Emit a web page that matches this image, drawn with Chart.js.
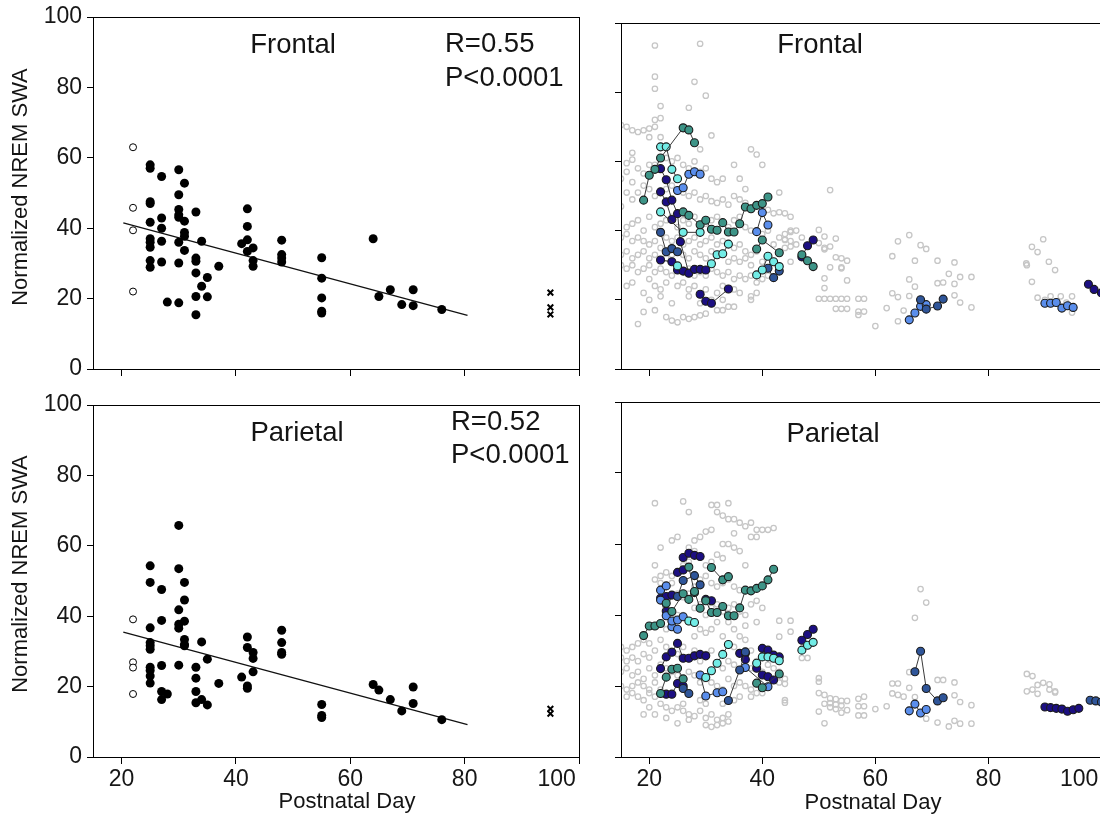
<!DOCTYPE html>
<html>
<head>
<meta charset="utf-8">
<script src="https://cdn.jsdelivr.net/npm/chart.js@4.4.1/dist/chart.umd.min.js"></script>
<style>
  html, body { margin: 0; padding: 0; background: #fff; overflow: hidden; width: 1100px; height: 816px; }
  canvas { position: absolute; }
</style>
</head>
<body>
<canvas id="frontalLeft" width="590" height="390" style="left:0;top:0"></canvas>
<canvas id="parietalLeft" width="590" height="426" style="left:0;top:390px"></canvas>
<canvas id="frontalRight" width="575" height="390" style="left:560px;top:0"></canvas>
<canvas id="parietalRight" width="575" height="426" style="left:560px;top:390px"></canvas>
<script>
// Axis ticks
const tickDays = [20, 40, 60, 80, 100];
const tickSWA = [0, 20, 40, 60, 80, 100];

// ---- Left panels: per-animal values ----
const frontalSWA = [
  [25,58],[25,57],[25,47.5],[25,47],[25,41.7],[25,37],[25,36],[25,34.6],[25,30.8],[25,28.9],
  [27,54.7],[27,42.9],[27,40],[27,36.3],[27,30.4],[28,19],
  [30,56.6],[30,49.5],[30,45.3],[30,43.8],[30,43.1],[30,36],[30,30.1],[30,18.8],
  [31,52.8],[31,42],[31,38.8],[31,37.7],[31,33.7],
  [33,44.6],[33,31.5],[33,30.6],[33,27.3],[33,20.6],[33,15.4],
  [34,36.3],[34,23.5],[35,26],[35,20.5],[37,29.2],[41,35.6],
  [42,45.5],[42,40.5],[42,36.7],[42,33.4],[43,34.4],[43,30.8],[43,29.2],
  [48,36.6],[48,32.5],[48,31.5],[48,30.4],
  [55,31.6],[55,25.8],[55,20.2],[55,16.4],[55,15.9],
  [64,37],[65,20.6],[67,22.5],[69,18.3],[71,22.5],[71,18],[76,16.9]
];
const frontalOpen = [[22,63],[22,45.8],[22,39.4],[22,22]];
const frontalCross = [[95,21.7],[95,17.5],[95,15.5]];
const frontalFit = [[20.3,41.5],[80.5,15.2]];

const parietalSWA = [
  [25,54.3],[25,49.6],[25,36.7],[25,32.5],[25,31.6],[25,30.6],[25,25.5],[25,24.6],[25,23],[25,21],
  [27,47.6],[27,38.8],[27,26],[27,18.6],[27,16.3],[28,17.9],
  [30,65.8],[30,53.5],[30,41.8],[30,37.7],[30,36.6],[30,26.1],
  [31,49.6],[31,44.6],[31,38.6],[31,33.4],[31,32],[31,31.6],
  [33,25.5],[33,22.4],[33,18.6],[33,15.4],[34,32.7],[34,16.3],[35,27.8],[35,14.8],
  [37,20.9],[41,22.7],[42,34.1],[42,31.1],[42,20.2],[42,19.5],[43,29.7],[43,28],[43,24.2],
  [48,36],[48,32.5],[48,29.7],[48,29.2],[55,14.9],[55,11.8],[55,11.2],
  [64,20.6],[65,19],[67,16.3],[69,13.1],[71,19.9],[71,15.2],[76,10.6]
];
const parietalOpen = [[22,39.1],[22,26.9],[22,25.4],[22,17.9]];
const parietalCross = [[95,13.7],[95,12.3]];
const parietalFit = [[20.3,35.5],[80.5,9.2]];

// ---- Right panels: all recordings (grey) ----
const frontalAll = [
  [21,93.5],[29,94],[21,84.5],[21,81],[28,83],[30,79],[22,76],[27,75.5],[31,67.5],
  [15,70.5],[16,70],[17,69],[18,68.5],[19,69],[20,69.5],[21,70],[21,72],[22,72.5],[20,67],[22,67],
  [29,63.5],[38,63.5],[39,62],[35,59],[40,59],[16,59.5],[17,60.5],[17,62.5],[26,59],[15,55],[16,57],[17,54],
  [18,58],[19,56.5],[20,59],[21,59],[23,61],[24,60],[25,61],[27,58],[28,60],[29,57],[30,58],[31,55],[32,54],
  [33,55],[36,55],[37,52],[43,51],
  [15,47],[16,51],[17,49],[18,51],[19,53],[20,52],[21,50],[23,52],[24,53],[26,51],[27,50],[28,51],[29,49],
  [30,50],[31,48.5],[32,48],[33,49],[34,47.5],[35,50],[36,49],[37,48],[38,46],[41,46],[42,45],[44,45],[45,44],
  [16,41],[17,42],[18,43],[19,40],[20,44],[21,41],[22,42],[23,43],[24,44],[25,41],[26,43],[27,42],[28,44],
  [29,41],[30,42],[31,43],[32,44],[33,42],[34,41],[35,43],[36,44],[37,41],[38,40],[40,39],[41,40],[43,38],
  [44,39],[46,40],
  [15,38],[16,39],[17,37],[18,38],[19,37],[20,36],[21,37],[22,35],[23,38],[24,37],[25,38],[26,36],[27,37],
  [28,38],[29,36],[30,37],[31,38],[32,36],[33,37],[34,36],[35,35],[36,36],[37,34],[38,33],[39,34],[42,36],
  [44,35],[45,37],[46,36],[47,38],
  [15,33],[16,34],[17,32],[18,33],[19,34],[20,32],[21,33],[23,32],[24,33],[26,33],[27,32],[28,34],[29,33],
  [30,32],[31,34],[32,33],[34,31],[35,32],[36,31],[37,32],[38,30],[40,31],[45,31],
  [15,30],[16,29],[17,30],[18,28],[19,29],[20,30],[21,28],[22,29],[23,28],[24,27],[26,28],[27,29],[28,27],
  [29,28],[30,27],[31,29],[32,28],[33,27],[34,28],[35,26],[36,27],[37,26],[38,27],[39,25],[40,26],[41,27],
  [16,24],[17,25],[19,22],[20,26],[21,24],[22,23],[23,25],[25,24],[26,25],[27,23],[28,24],[30,23],[32,22],
  [33,24],[35,23],[36,22],[38,21],[39,22],
  [20,20],[22,21],[24,19],[27,21],[29,19],[31,20],[33,20],[35,18],[38,20],
  [19,16.5],[21,17],[23,15],[24,14],[25,13.5],[26,15],[27,14.5],[28,15],[29,15.5],[30,16],[32,17],[33,17],
  [34,18],[18,13],
  [43,45.3],[45,39.6],[44,37.5],[50,40.2],[51,38.3],[53,37.7],[50,36.4],[51,35],[52,35.4],[55,31.3],[54,32],
  [52,29.4],[54,29.1],[51,26.2],[55,25.6],[51,23.4],[50,20.3],[51,20.3],[52,20.3],[53,20.3],[54,20.3],
  [55,20.3],[57,20.3],[58,20.3],[53,17.4],[54,17.4],[55,17.4],[57,16.6],[58,16.6],[57,15.6],[60,12.4],
  [62,17.6],[63,32.6],[64,36.9],[66,38.7],[68,35.8],[69,34.7],[67,31.3],[71,31.3],[74,30.8],[63,21.9],
  [64,20.8],[65,16.9],[64,13.8],[66,25.9],[67,23.8],[66,21.1],[71,24.8],[72,25],[73,27.5],[75,26.6],
  [77,26.6],[74,24.6],[74,21.3],[75,19.2],[77,17.8],[52,51.7],[45,40],[44,37.3],[45,35.4],[53,32.3],
  [54,29.4],[51,34.6],
  [86.7,30.5],[87.7,35.3],[88.7,33.8],[89.7,37.5],[90.7,31],[91.8,28.6],[87.7,25.2],[88.7,20.6],
  [92.8,21],[94.8,21],[93.8,19.2],[94.8,17.8],[94.8,16.3],[86.8,30],[91,21],[90,20]
];

const parietalAll = [
  [21,71.5],[26,72],[27,69],[31,71],[32,71],[34,71.5],[32,69],[33,68],[34,67],[35,67],[36,66],[37,65],
  [38,66],[39,64],[40,64],[41,64],[42,64.5],[38,62],[39,62],[35,63],[30,63.5],[31,64],[29,62],[28,61],
  [24,61],[25,62],[22,59],[27,59],[28,58],[33,60],[34,60],[35,59],[36,58],[32,57],[31,55],[30,54],[33,56],
  [37,54],[26,54],[27,55],[21,54],[22,51],[23,52],[24,51],[25,52],[21,50],[22,49],[23,48],[24,49],[29,50],
  [30,51],[31,49],[32,48],[33,49],[34,50],[35,48],[36,47],[28,48],[38,43],[39,44],[40,42],[35,43],[34,42],
  [36,41],[37,40],[39,38],[37,37],
  [15,31],[16,30],[17,31],[18,32],[19,33],[20,32],[15,28],[16,27],[17,28],[18,27],[19,29],[20,28],[21,30],
  [15,24],[16,25],[17,23],[18,24],[19,22],[20,25],[21,23],[15,20],[16,19],[17,20],[18,21],[19,20],[20,19],
  [21,21],[16,17],[17,18],[18,17],[19,16],[20,18],[21,17],[22,19],[23,36],[22,33],[23,31],[24,30],[25,29],
  [26,31],[27,28],[28,30],[29,27],[30,29],[31,30],[32,26],[33,25],[34,27],[35,26],[36,29],[37,30],[38,25],
  [39,27],[40,28],[41,26],[42,25],[43,24],[44,22],[22,26],[23,25],[24,24],[25,23],[26,22],[27,24],[28,23],
  [29,21],[30,22],[31,21],[32,20],[33,19],[34,22],[35,20],[36,21],[37,20],[38,19],[39,18],[43,21],[44,16],
  [22,15],[23,14],[24,13],[25,14],[26,13],[27,12],[28,11.5],[29,13],[30,11],[31,12],[32,10.5],[33,11],
  [34,10],[20,14],[19,12],[21,12],[25,9.5],[27,10.5],[30,9],[31,8.5],[32,9],[33,9.5],[34,12],[23,11],
  [26,15],[29,16],[30,15],[33,15],[35,16],[36,17],[38,17],[28,34],[29,36],[30,35],[31,36],[33,34],[32,38],
  [34,38],[35,36],[36,34],[37,33],[27,38],[26,40],[25,40],[24,39],[30,40],[28,42],[29,43],[31,42],[32,43],
  [33,41],[26,45],[27,46],[25,46],[35,31],[38,30],[40,24],[41,23],[40,18],
  [43,38.4],[45,38.4],[45,35.3],[43,33.9],[47,27.9],[48,27.9],[44,20.6],[44,15.3],[50,22.2],[50,21.2],
  [50,18],[51,17.5],[52,16.5],[53,16.3],[54,15.8],[55,15.8],[51,15],[52,14],[53,13.5],[54,12.5],[55,13.2],
  [52,15.2],[53,14.8],[54,14.5],[51,9.5],[50,12.8],[57,16.4],[58,17],[57,14.3],[58,14.3],[57,11.7],
  [58,11.7],[60,13.5],[62,14.3],[63,20.7],[64,20.7],[63,17.9],[64,17.5],[65,17],[66,19.5],[67,16.9],
  [68,47.3],[69,43.5],[67,39.2],[66,23.9],[71,21.7],[72,21.7],[74,21],[74,17.4],[75,15.5],[77,14.6],
  [77,9.4],[75,9.4],[74,10.2],[73,8.6],[71,9.7],[69,10.8],
  [86.8,23.4],[87.8,22.8],[88.7,20.3],[89.7,20.9],[90.8,20.5],[91.8,18.5],[86.8,18.5],[87.8,19],
  [88.7,17.8],[90.8,19],[91.8,18.2]
];

// ---- Right panels: individual animals, grouped by colour ----
const frontalTeal = [
  [[19,48.8],[20,56],[21,57.7],[22,61],[26,69.7],[27,69.1],[28,65.4]],
  [[26,45.4],[27,44.4],[29,41.7],[30,43],[31,40.4],[32,40.1],[33,42.3],[34,39.6],[35,39.6],[36,42],
   [37,46.8],[38,46.3],[39,47.3],[40,47.8],[41,49.7]],
  [[39,34.7],[40,37.3],[43,33.6]],
  [[47,33],[48,31.3],[49,29.6]]
];
const frontalCyan = [
  [[22,64.2],[23,64.2],[24,57.7],[25,55]],
  [[22,45.4],[26,39.5],[29,39.5]],
  [[31,30.4],[32,33],[33,33.3],[34,36.1]],
  [[39,27.2],[40,28.6],[41,32.6],[42,31],[43,29.6]],
  [[25,29.8]]
];
const frontalNavy = [
  [[22,57.9],[23,54.7],[24,48.8],[25,44.9],[25.5,36.8],[27,27.7],[28,28.8],[29,28.8],[30,28.6]],
  [[22,51.2],[23,48.3],[24,43.2]],
  [[22,31.5],[24,31],[25,28.6],[26,28.3]],
  [[29,21.6],[30,19.6],[31,19],[34,23.1]],
  [[47,32.4],[48,35.6],[49,37.3]],
  [[97.7,24.5],[98.7,23],[100,22],[101,21.5]]
];
const frontalCornflower = [
  [[25,51.6],[26,52.4],[27,56.3],[28,57],[29,56.3]],
  [[39,39.7],[40,45.2],[41,41.6]],
  [[66,14.2],[67,16.2],[68,18.1],[69,18.6]],
  [[90,19],[91,19],[92,19.2],[93,17.6],[94,18.3],[95,17.8]]
];
const frontalSteel = [
  [[22,39.5],[23,33.9],[24,34.8],[25,33.9]],
  [[41,29.1],[42,26.4],[43,28.3]],
  [[68,20],[69,17.3],[71,18.2],[72,20.2]]
];

const parietalTeal = [
  [[19,34.2],[20,36.9],[21,36.9],[22,37.6]],
  [[23,43.3],[24,41],[26,46],[27,44.4],[28,46.6],[29,41.9],[30,44],[31,40.7],[32,40.7],[33,42.4],
   [34,39.8],[35,39.8],[36,42],[37,47],[38,46.8],[39,47.5],[40,48.2],[41,49.9],[42,52.9]],
  [[27,53.5],[28,46.3]],
  [[31,53.4],[33,49.9],[34,50.8]],
  [[22,17.9],[23,22.5],[24,24.7],[25,25],[26,22]],
  [[39,20.8],[40,19.5],[43,23.4]]
];
const parietalCyan = [
  [[27,38.3],[28,37.9]],
  [[30,22.4],[31,24.3],[32,26.4],[33,28.9],[34,31.7]],
  [[39,26.4],[40,28.2],[41,28.2],[42,27.8],[43,27.1]],
  [[47,30.1],[48,31.5],[49,32.3]]
];
const parietalNavy = [
  [[26,56.2],[27,57.4],[28,56.8],[29,56.5]],
  [[25,52],[26,52.7]],
  [[22,44.7],[23,45.2],[24,45.6],[23,41.1]],
  [[22,24.9],[23,28.2],[24,29.5],[25,32],[26,27.8],[27,27.8],[28,28.5],[29,28.9],[30,28.5]],
  [[23,17.7],[24,17.7],[25,20.7],[26,20]],
  [[30,44.4],[31,44]],
  [[36,29.2],[37,29.2],[37,27.5]],
  [[40,30.6],[41,30.1],[42,28.7],[43,28.2]],
  [[39,25],[40,23.1],[41,22.6],[42,21.7]],
  [[47,32.9],[48,34.5],[49,36]],
  [[90,14.1],[91,13.9],[92,13.7],[93,13.5],[94,12.9],[95,13.3],[96,13.7]]
];
const parietalCornflower = [
  [[22,47],[23,48.2]],
  [[22,44.2],[23,39.8],[24,38.3],[25,38.6],[26,39.5]],
  [[24,36.7],[25,36]],
  [[29,23.1],[30,17.2],[32,18.1],[33,18.4]],
  [[37,25.2],[41,19.8]],
  [[66,13],[67,14.9],[68,12.4],[69,13.4]]
];
const parietalSteel = [
  [[25,45.2],[26,49.7],[28,51.1],[29,48.5]],
  [[26,19.3],[27,17.9]],
  [[34,15.9],[36,24.5],[37,29.6]],
  [[67,24],[68,29.8],[69,19.3],[71,15.8],[72,16.7]],
  [[98,16],[99,15.8],[100,15.5]]
];

const COLORS = { teal: '#3d9487', cyan: '#72ece6', navy: '#1c0f82', cornflower: '#5a8eec', steel: '#2f5599' };
const FONT = '"Liberation Sans", Arial, sans-serif';

const pts = arr => arr.map(([x, y]) => ({ x, y }));

function dots(arr, extra) {
  return Object.assign({ data: pts(arr), showLine: false, order: 1 }, extra);
}

function tracks(groups, color) {
  return groups.map(g => ({
    data: pts(g),
    showLine: true,
    borderColor: '#3a3a3a',
    borderWidth: 1,
    pointRadius: 4,
    pointBackgroundColor: color,
    pointBorderColor: '#1b1b1b',
    pointBorderWidth: 1.1,
    order: 1
  }));
}

function greyCloud(arr) {
  return {
    data: pts(arr),
    showLine: false,
    pointRadius: 2.7,
    pointBorderWidth: 1.3,
    pointBorderColor: '#c6c6c6',
    pointBackgroundColor: 'rgba(0,0,0,0)',
    order: 5
  };
}

// plot frame
const boxPlugin = {
  id: 'box',
  afterDatasetsDraw(chart) {
    const a = chart.chartArea, ctx = chart.ctx;
    ctx.save();
    ctx.strokeStyle = '#000';
    ctx.lineWidth = 1;
    ctx.strokeRect(Math.round(a.left) + 0.5, Math.round(a.top) + 0.5, Math.round(a.width), Math.round(a.height));
    ctx.restore();
  }
};

// panel titles, stats and axis titles
const textPlugin = {
  id: 'panelText',
  afterDraw(chart, args, opts) {
    const ctx = chart.ctx;
    (opts.items || []).forEach(t => {
      ctx.save();
      ctx.font = `${t.size}px ${FONT}`;
      ctx.fillStyle = '#141414';
      ctx.textAlign = t.align || 'left';
      ctx.textBaseline = t.baseline || 'alphabetic';
      ctx.translate(t.x, t.y);
      if (t.rot) ctx.rotate(t.rot);
      ctx.fillText(t.text, 0, 0);
      ctx.restore();
    });
  }
};

function panel(id, datasets, cfg) {
  const tickFont = { family: FONT, size: 23 };
  return new Chart(document.getElementById(id), {
    type: 'scatter',
    data: { datasets },
    options: {
      responsive: false,
      animation: false,
      events: [],
      layout: { padding: { top: cfg.top, right: cfg.right, left: 0, bottom: 0 } },
      plugins: {
        legend: { display: false },
        tooltip: { enabled: false },
        panelText: { items: cfg.texts }
      },
      scales: {
        x: {
          type: 'linear',
          min: 15,
          max: cfg.xmax,
          afterBuildTicks: s => { s.ticks = tickDays.map(v => ({ value: v })); },
          afterFit: s => { s.height = cfg.xh; s.paddingLeft = 0; s.paddingRight = 0; },
          grid: { display: true, drawOnChartArea: false, drawTicks: true, tickLength: 7, color: '#000', lineWidth: 1 },
          border: { display: false },
          ticks: {
            display: cfg.xlabels,
            color: '#161616',
            font: tickFont,
            padding: 2,
            maxRotation: 0,
            autoSkip: false,
            callback: v => v === 100 ? '100       ' : String(v)
          }
        },
        y: {
          type: 'linear',
          min: 0,
          max: 100,
          afterBuildTicks: s => { s.ticks = tickSWA.map(v => ({ value: v })); },
          afterFit: s => { s.width = cfg.yw; s.paddingTop = 0; s.paddingBottom = 0; },
          grid: { display: true, drawOnChartArea: false, drawTicks: true, tickLength: 6, color: '#000', lineWidth: 1 },
          border: { display: false },
          ticks: { display: cfg.ylabels, color: '#161616', font: tickFont, padding: 5, autoSkip: false }
        }
      }
    },
    plugins: [boxPlugin, textPlugin]
  });
}

function leftSet(filled, open, cross, fit) {
  return [
    dots(filled, { pointRadius: 4.5, pointBackgroundColor: '#000', pointBorderColor: '#000', pointBorderWidth: 0 }),
    dots(open, { pointRadius: 3.5, pointBackgroundColor: '#fff', pointBorderColor: '#000', pointBorderWidth: 1 }),
    dots(cross, { pointStyle: 'crossRot', pointRadius: 4, pointBorderColor: '#000', pointBorderWidth: 2 }),
    { data: pts(fit), showLine: true, borderColor: '#111', borderWidth: 1.3, pointRadius: 0, order: 2 }
  ];
}

function rightSet(all, teal, cyan, navy, cornflower, steel) {
  return [greyCloud(all)]
    .concat(tracks(teal, COLORS.teal))
    .concat(tracks(cyan, COLORS.cyan))
    .concat(tracks(steel, COLORS.steel))
    .concat(tracks(cornflower, COLORS.cornflower))
    .concat(tracks(navy, COLORS.navy));
}

const yTitle = (y) => ({ text: 'Normalized NREM SWA', x: 21, y, size: 22, align: 'center', baseline: 'middle', rot: -Math.PI / 2 });

panel('frontalLeft', leftSet(frontalSWA, frontalOpen, frontalCross, frontalFit), {
  top: 17, right: 11, xh: 21, yw: 93, xmax: 100, xlabels: false, ylabels: true,
  texts: [
    { text: 'Frontal', x: 293, y: 53, size: 27.5, align: 'center' },
    { text: 'R=0.55', x: 445, y: 52, size: 27.5 },
    { text: 'P<0.0001', x: 445, y: 86, size: 27.5 },
    yTitle(187)
  ]
});

panel('parietalLeft', leftSet(parietalSWA, parietalOpen, parietalCross, parietalFit), {
  top: 15, right: 11, xh: 59, yw: 93, xmax: 100, xlabels: true, ylabels: true,
  texts: [
    { text: 'Parietal', x: 297, y: 51, size: 27.5, align: 'center' },
    { text: 'R=0.52', x: 451, y: 40, size: 27.5 },
    { text: 'P<0.0001', x: 451, y: 73, size: 27.5 },
    yTitle(184),
    { text: 'Postnatal Day', x: 347, y: 418, size: 22, align: 'center' }
  ]
});

panel('frontalRight', rightSet(frontalAll, frontalTeal, frontalCyan, frontalNavy, frontalCornflower, frontalSteel), {
  top: 23, right: 0, xh: 21, yw: 61, xmax: 105, xlabels: false, ylabels: false,
  texts: [
    { text: 'Frontal', x: 260, y: 53, size: 27.5, align: 'center' }
  ]
});

panel('parietalRight', rightSet(parietalAll, parietalTeal, parietalCyan, parietalNavy, parietalCornflower, parietalSteel), {
  top: 12, right: 0, xh: 59, yw: 61, xmax: 105, xlabels: true, ylabels: false,
  texts: [
    { text: 'Parietal', x: 273, y: 52, size: 27.5, align: 'center' },
    { text: 'Postnatal Day', x: 313, y: 419, size: 22, align: 'center' }
  ]
});
</script>
</body>
</html>
